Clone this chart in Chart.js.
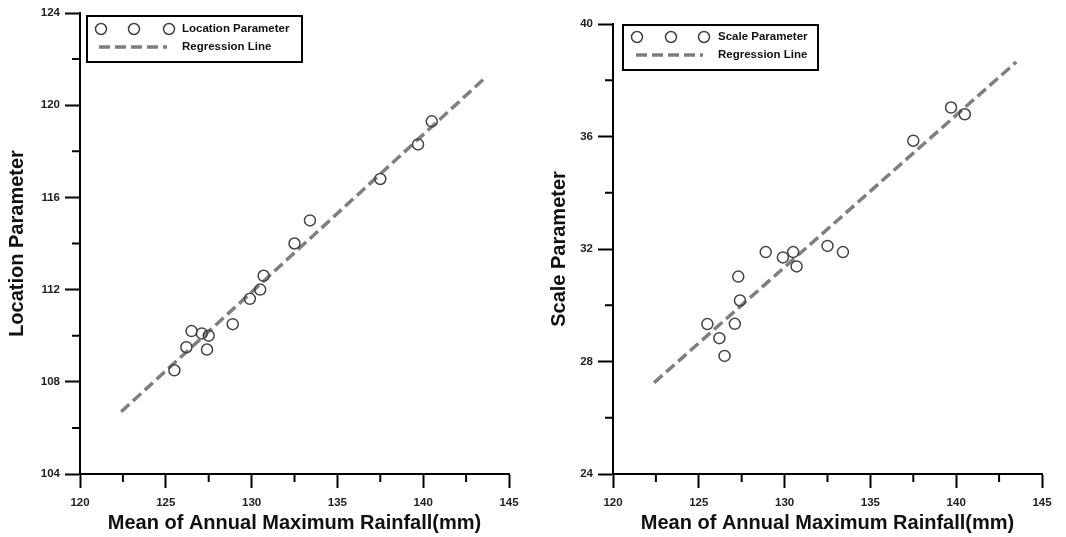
<!DOCTYPE html>
<html>
<head>
<meta charset="utf-8">
<script src="https://cdn.jsdelivr.net/npm/chart.js@4.4.1/dist/chart.umd.min.js"></script>
<style>
    body { margin: 0; background: #fff; }
    .wrap { display: flex; width: 1066px; height: 537px; }
    canvas { display: block; }
</style>
</head>
<body>
<div class="wrap">
    <canvas id="locationChart" width="533" height="537"></canvas>
    <canvas id="scaleChart" width="533" height="537"></canvas>
</div>
<script>
// Location parameter vs mean of annual max rainfall
var rainfallLoc = [125.5, 126.2, 126.5, 127.1, 127.4, 127.5, 128.9, 129.9, 130.5, 130.7, 132.5, 133.4, 137.5, 139.7, 140.5];
var locationParam = [108.5, 109.5, 110.2, 110.1, 109.4, 110.0, 110.5, 111.6, 112.0, 112.6, 114.0, 115.0, 116.8, 118.3, 119.3];
var locRegX = [122.4, 143.7];
var locRegY = [106.7, 121.25];

// Scale parameter vs mean of annual max rainfall
var rainfallScale = [125.5, 126.2, 126.5, 127.1, 127.3, 127.4, 128.9, 129.9, 130.5, 130.7, 132.5, 133.4, 137.5, 139.7, 140.5];
var scaleParam = [29.33, 28.83, 28.2, 29.34, 31.02, 30.17, 31.89, 31.7, 31.89, 31.38, 32.11, 31.89, 35.85, 37.03, 36.79];
var scaleRegX = [122.4, 143.5];
var scaleRegY = [27.25, 38.65];

var xTicks = [120, 125, 130, 135, 140, 145];
var locTicks = [104, 108, 112, 116, 120, 124];
var scaleTicks = [24, 28, 32, 36, 40];

var FONT = '"Liberation Sans", Arial, sans-serif';

function pairs(xs, ys) {
    return xs.map(function(x, i) { return { x: x, y: ys[i] }; });
}

// minor ticks drawn shorter than the major ones
var minorTicks = {
    id: 'minorTicks',
    afterDraw: function(chart) {
        var ctx = chart.ctx;
        var xs = chart.scales.x, ys = chart.scales.y;
        var xMaj = chart.options.scales.x.majorStep, yMaj = chart.options.scales.y.majorStep;
        ctx.save();
        ctx.strokeStyle = '#000';
        ctx.lineWidth = 2;
        ctx.beginPath();
        xs.ticks.forEach(function(t) {
            if (Math.abs(t.value % xMaj) > 1e-6) {
                var px = xs.getPixelForValue(t.value);
                ctx.moveTo(px, xs.top);
                ctx.lineTo(px, xs.top + 8);
            }
        });
        ys.ticks.forEach(function(t) {
            if (Math.abs(t.value % yMaj) > 1e-6) {
                var py = ys.getPixelForValue(t.value);
                ctx.moveTo(ys.right, py);
                ctx.lineTo(ys.right - 8, py);
            }
        });
        ctx.stroke();
        ctx.restore();
    }
};

function boxLegend(cfg) {
    return {
        id: 'boxLegend',
        afterDraw: function(chart) {
            var ctx = chart.ctx;
            var a = chart.chartArea;
            var bx = a.left + cfg.dx, by = a.top + cfg.dy;
            ctx.save();
            ctx.strokeStyle = '#000';
            ctx.lineWidth = 2;
            ctx.strokeRect(bx, by, cfg.w, cfg.h);
            // circle markers
            ctx.strokeStyle = '#444';
            ctx.lineWidth = 1.5;
            cfg.circles.forEach(function(cx) {
                ctx.beginPath();
                ctx.arc(a.left + cx, a.top + cfg.row1, 5.5, 0, Math.PI * 2);
                ctx.stroke();
            });
            // dashed sample
            ctx.strokeStyle = '#7f7f7f';
            ctx.lineWidth = 3.5;
            ctx.setLineDash([11, 5]);
            ctx.beginPath();
            ctx.moveTo(a.left + cfg.dash[0], a.top + cfg.row2);
            ctx.lineTo(a.left + cfg.dash[1], a.top + cfg.row2);
            ctx.stroke();
            ctx.setLineDash([]);
            ctx.fillStyle = '#111';
            ctx.font = 'bold 11.5px ' + FONT;
            ctx.textBaseline = 'middle';
            ctx.fillText(cfg.label, a.left + cfg.tx, a.top + cfg.row1);
            ctx.fillText('Regression Line', a.left + cfg.tx, a.top + cfg.row2);
            ctx.restore();
        }
    };
}

function makeChart(id, opt) {
    var ctx = document.getElementById(id).getContext('2d');
    return new Chart(ctx, {
        type: 'scatter',
        data: {
            datasets: [{
                label: opt.label,
                data: pairs(opt.xs, opt.ys),
                pointRadius: 5.5,
                pointHoverRadius: 5.5,
                pointBorderWidth: 1.5,
                borderColor: '#444',
                backgroundColor: 'rgba(0,0,0,0)'
            }, {
                label: 'Regression Line',
                data: pairs(opt.regX, opt.regY),
                showLine: true,
                pointRadius: 0,
                borderColor: '#7f7f7f',
                borderWidth: 3.5,
                borderDash: [11, 5]
            }]
        },
        options: {
            responsive: false,
            animation: false,
            layout: { padding: { left: 0, right: 24, top: opt.top, bottom: 0 } },
            plugins: { legend: { display: false }, tooltip: { enabled: false } },
            scales: {
                x: {
                    type: 'linear',
                    min: 120, max: 145,
                    majorStep: 5,
                    afterFit: function(s) { s.height = 63; },
                    border: { color: '#000', width: 2 },
                    grid: {
                        drawOnChartArea: false,
                        tickLength: 14,
                        tickWidth: 2,
                        tickColor: function(c) { return c.tick && xTicks.indexOf(c.tick.value) >= 0 ? '#000' : 'rgba(0,0,0,0)'; }
                    },
                    ticks: {
                        stepSize: 2.5,
                        autoSkip: false,
                        maxRotation: 0,
                        padding: 8,
                        color: '#222',
                        font: { family: FONT, size: 11.5, weight: 'bold' },
                        callback: function(v) { return xTicks.indexOf(v) >= 0 ? v : ''; }
                    },
                    title: {
                        display: true,
                        text: 'Mean of Annual Maximum Rainfall(mm)',
                        color: '#111',
                        padding: { top: 0, bottom: 2 },
                        font: { family: FONT, size: 20, weight: 'bold' }
                    }
                },
                y: {
                    min: opt.yMin, max: opt.yMax,
                    majorStep: 4,
                    afterFit: function(s) { s.width = 80; },
                    border: { color: '#000', width: 2 },
                    grid: {
                        drawOnChartArea: false,
                        tickLength: 15,
                        tickWidth: 2,
                        tickColor: function(c) { return c.tick && opt.yTicks.indexOf(c.tick.value) >= 0 ? '#000' : 'rgba(0,0,0,0)'; }
                    },
                    ticks: {
                        stepSize: 2,
                        autoSkip: false,
                        padding: 5,
                        color: '#222',
                        font: { family: FONT, size: 11.5, weight: 'bold' },
                        callback: function(v) { return opt.yTicks.indexOf(v) >= 0 ? v : ''; }
                    },
                    title: {
                        display: true,
                        text: opt.yTitle,
                        color: '#111',
                        padding: { top: opt.titlePad, bottom: 0 },
                        font: { family: FONT, size: 20, weight: 'bold' }
                    }
                }
            }
        },
        plugins: [minorTicks, boxLegend(opt.legend)]
    });
}

document.addEventListener('DOMContentLoaded', function() {
    makeChart('locationChart', {
        label: 'Location Parameter',
        xs: rainfallLoc, ys: locationParam,
        regX: locRegX, regY: locRegY,
        yMin: 104, yMax: 124, yTicks: locTicks,
        yTitle: 'Location Parameter',
        top: 13, titlePad: 5,
        legend: { dx: 7, dy: 3, w: 215, h: 46, circles: [21, 54, 89], row1: 16, row2: 34, dash: [19, 87], tx: 102, label: 'Location Parameter' }
    });
    makeChart('scaleChart', {
        label: 'Scale Parameter',
        xs: rainfallScale, ys: scaleParam,
        regX: scaleRegX, regY: scaleRegY,
        yMin: 24, yMax: 40, yTicks: scaleTicks,
        yTitle: 'Scale Parameter',
        top: 24, titlePad: 14,
        legend: { dx: 10, dy: 1, w: 195, h: 45, circles: [24, 58, 91], row1: 13, row2: 31, dash: [23, 90], tx: 105, label: 'Scale Parameter' }
    });
});
</script>
</body>
</html>
